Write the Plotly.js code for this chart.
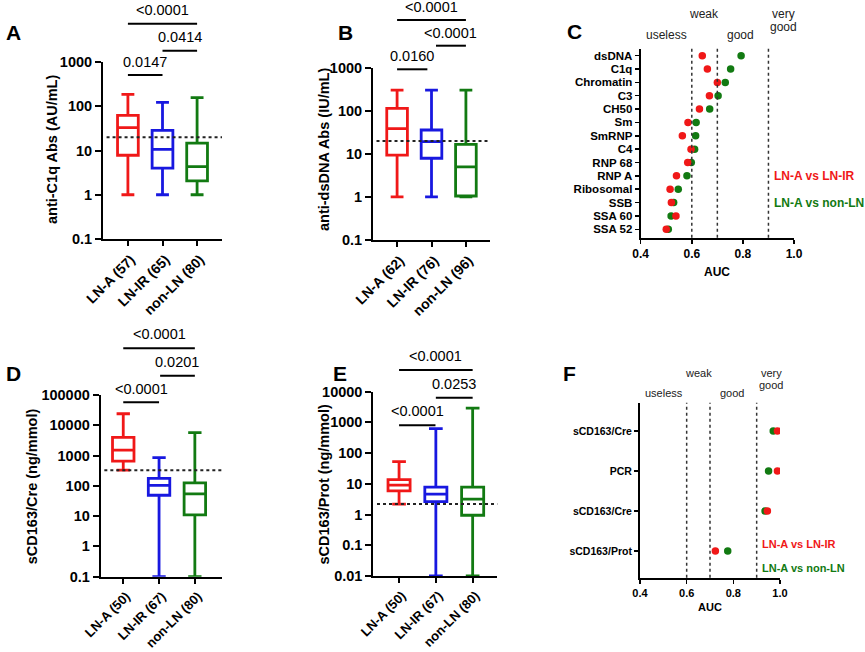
<!DOCTYPE html>
<html><head><meta charset="utf-8">
<script src="https://cdn.plot.ly/plotly-3.0.1.min.js"></script>
<style>html,body{margin:0;padding:0;background:#fff}#chart{width:865px;height:652px}</style>
</head><body><div id="chart"></div>
<script>
// ---------- DATA ----------
const groupsA = ['LN-A (57)', 'LN-IR (65)', 'non-LN (80)'];
const a_lower = [1, 1, 1];
const a_q1 = [7.8, 4.0, 2.05];
const a_median = [33, 10.6, 4.3];
const a_q3 = [62, 28.5, 14.7];
const a_upper = [185, 122, 156];
const a_cutoff = 20;
const a_pvals = ['0.0147', '0.0414', '<0.0001'];

const groupsB = ['LN-A (62)', 'LN-IR (76)', 'non-LN (96)'];
const b_lower = [1, 1, 1];
const b_q1 = [9.3, 7.9, 1.05];
const b_median = [38.5, 19.2, 5.0];
const b_q3 = [114, 35.8, 16.6];
const b_upper = [300, 300, 300];
const b_cutoff = 20;
const b_pvals = ['0.0160', '<0.0001', '<0.0001'];

const groupsD = ['LN-A (50)', 'LN-IR (67)', 'non-LN (80)'];
const d_lower = [330, 0.1, 0.1];
const d_q1 = [660, 49, 11];
const d_median = [1520, 104, 54];
const d_q3 = [4000, 177, 126];
const d_upper = [24000, 850, 5700];
const d_cutoff = 330;
const d_pvals = ['<0.0001', '0.0201', '<0.0001'];

const groupsE = ['LN-A (50)', 'LN-IR (67)', 'non-LN (80)'];
const e_lower = [2.2, 0.01, 0.01];
const e_q1 = [5.9, 2.65, 0.95];
const e_median = [9.1, 4.6, 3.2];
const e_q3 = [13.8, 7.8, 7.8];
const e_upper = [53, 630, 2940];
const e_cutoff = 2.2;
const e_pvals = ['<0.0001', '0.0253', '<0.0001'];

const markersC = ['dsDNA', 'C1q', 'Chromatin', 'C3', 'CH50', 'Sm', 'SmRNP', 'C4', 'RNP 68', 'RNP A', 'Ribosomal', 'SSB', 'SSA 60', 'SSA 52'];
const aucC_LNA_vs_LNIR = [0.641, 0.661, 0.700, 0.669, 0.630, 0.585, 0.563, 0.597, 0.584, 0.540, 0.515, 0.520, 0.538, 0.500];
const aucC_LNA_vs_nonLN = [0.793, 0.752, 0.731, 0.703, 0.670, 0.617, 0.615, 0.611, 0.598, 0.581, 0.547, 0.529, 0.519, 0.508];

const markersF = ['sCD163/Cre', 'PCR', 'sCD163/Cre', 'sCD163/Prot'];
const aucF_LNA_vs_LNIR = [0.989, 0.989, 0.946, 0.723];
const aucF_LNA_vs_nonLN = [0.971, 0.951, 0.936, 0.776];

const aucThresholds = [0.6, 0.7, 0.9];
const aucTicks = [0.4, 0.6, 0.8, 1.0];
const aucTickText = ['0.4', '0.6', '0.8', '1.0'];

const logTicks3 = [0.1, 1, 10, 100, 1000];
const logText3 = ['0.1', '1', '10', '100', '1000'];
const logTicksD = [0.1, 1, 10, 100, 1000, 10000, 100000];
const logTextD = ['0.1', '1', '10', '100', '1000', '10000', '100000'];
const logTicksE = [0.01, 0.1, 1, 10, 100, 1000, 10000];
const logTextE = ['0.01', '0.1', '1', '10', '100', '1000', '10000'];

// ---------- STYLE ----------
const FONT = 'Liberation Sans, Arial, Helvetica, sans-serif';
const COLORS = ['#f01818', '#1818e0', '#127a12'];
const RED = '#f01818', GREEN = '#127a12';
const W = 865, H = 652;
const PX = x => x / W;
const PY = y => 1 - y / H;

const traces = [];
function addBoxes(xa, ya, lower, q1, med, q3, upper) {
  for (let i = 0; i < 3; i++) {
    traces.push({
      type: 'box', x: [i], lowerfence: [lower[i]], q1: [q1[i]], median: [med[i]], q3: [q3[i]], upperfence: [upper[i]],
      xaxis: xa, yaxis: ya, width: 0.6, whiskerwidth: 0.62, boxpoints: false,
      line: { color: COLORS[i], width: 2.8 }, fillcolor: 'rgba(255,255,255,0)',
      hoverinfo: 'skip', showlegend: false
    });
  }
}
addBoxes('x', 'y', a_lower, a_q1, a_median, a_q3, a_upper);
addBoxes('x2', 'y2', b_lower, b_q1, b_median, b_q3, b_upper);
addBoxes('x4', 'y4', d_lower, d_q1, d_median, d_q3, d_upper);
addBoxes('x5', 'y5', e_lower, e_q1, e_median, e_q3, e_upper);

function addDots(xa, ya, names, red, green) {
  const idx = names.map((_, i) => i);
  traces.push({ type: 'scatter', mode: 'markers', x: green, y: idx, xaxis: xa, yaxis: ya,
    marker: { color: GREEN, size: 7.5 }, hoverinfo: 'skip', showlegend: false });
  traces.push({ type: 'scatter', mode: 'markers', x: red, y: idx, xaxis: xa, yaxis: ya,
    marker: { color: RED, size: 7.5 }, hoverinfo: 'skip', showlegend: false });
}
addDots('x3', 'y3', markersC, aucC_LNA_vs_LNIR, aucC_LNA_vs_nonLN);
addDots('x6', 'y6', markersF, aucF_LNA_vs_LNIR, aucF_LNA_vs_nonLN);

function catX(x0, x1, range, labels, anchor, fs) {
  return { domain: [PX(x0), PX(x1)], range: range, anchor: anchor, tickmode: 'array', tickvals: [0, 1, 2], ticktext: labels,
    tickangle: -45, ticklabelshift: 3, showline: true, linewidth: 2, linecolor: '#000', ticks: 'outside', ticklen: 5, tickwidth: 2, tickcolor: '#000',
    showgrid: false, zeroline: false, tickfont: { family: FONT, size: fs, weight: 'bold', color: '#000' }, fixedrange: true };
}
function logY(yTop, yBot, range, vals, text, anchor) {
  return { type: 'log', domain: [PY(yBot), PY(yTop)], range: range, anchor: anchor, tickmode: 'array', tickvals: vals, ticktext: text,
    showline: true, linewidth: 2, linecolor: '#000', ticks: 'outside', ticklen: 6, tickwidth: 2, tickcolor: '#000',
    showgrid: false, zeroline: false, tickfont: { family: FONT, size: 14.5, weight: 'bold', color: '#000' }, fixedrange: true };
}
function aucX(x0, x1, anchor, fs) {
  return { domain: [PX(x0), PX(x1)], range: [0.4, 1.0], anchor: anchor, tickmode: 'array', tickvals: aucTicks, ticktext: aucTickText,
    showline: true, linewidth: 2, linecolor: '#000', ticks: 'outside', ticklen: 4, tickwidth: 1.5, tickcolor: '#000',
    showgrid: false, zeroline: false, tickfont: { family: FONT, size: fs, weight: 'bold', color: '#000' }, fixedrange: true };
}
function catY(yTop, yBot, range, names, anchor, fs) {
  return { domain: [PY(yBot), PY(yTop)], range: range, anchor: anchor, tickmode: 'array', tickvals: names.map((_, i) => i), ticktext: names,
    showline: true, linewidth: 2, linecolor: '#000', ticks: 'outside', ticklen: 4, tickwidth: 1.5, tickcolor: '#000',
    showgrid: false, zeroline: false, tickfont: { family: FONT, size: fs, weight: 'bold', color: '#000' }, fixedrange: true };
}

const layout = {
  width: W, height: H, margin: { l: 0, r: 0, t: 0, b: 0 }, paper_bgcolor: '#fff', plot_bgcolor: 'rgba(0,0,0,0)',
  showlegend: false, boxmode: 'overlay',
  xaxis: catX(103, 222, [-0.72, 2.72], groupsA, 'y', 14),
  yaxis: logY(62, 239, [-1, 3], logTicks3, logText3, 'x'),
  xaxis2: catX(373, 490, [-0.7, 2.7], groupsB, 'y2', 14),
  yaxis2: logY(67.7, 240, [-1, 3], logTicks3, logText3, 'x2'),
  xaxis3: aucX(640.7, 794, 'y3', 12),
  yaxis3: catY(49, 237.7, [13.63, -0.5], markersC, 'x3', 11.5),
  xaxis4: catX(100.7, 221.7, [-0.63, 2.75], groupsD, 'y4', 13),
  yaxis4: logY(395, 576.7, [-1, 5], logTicksD, logTextD, 'x4'),
  xaxis5: catX(373.3, 497.3, [-0.7, 2.67], groupsE, 'y5', 13),
  yaxis5: logY(391.7, 576, [-2, 4], logTicksE, logTextE, 'x5'),
  xaxis6: aucX(640, 780, 'y6', 11),
  yaxis6: catY(403.3, 577.7, [3.67, -0.69], markersF, 'x6', 10.5),
  shapes: [], annotations: []
};

// cutoff dotted lines
[['x', 'y', a_cutoff], ['x2', 'y2', b_cutoff], ['x4', 'y4', d_cutoff], ['x5', 'y5', e_cutoff]].forEach(([xa, ya, c]) => {
  layout.shapes.push({ type: 'line', xref: xa + ' domain', yref: ya, x0: 0.03, x1: 1, y0: c, y1: c,
    line: { color: '#222', width: 2, dash: 'dot' } });
});
// AUC threshold lines
aucThresholds.forEach(t => {
  layout.shapes.push({ type: 'line', xref: 'x3', yref: 'paper', x0: t, x1: t, y0: PY(237.7), y1: PY(46), line: { color: '#333', width: 1.5, dash: 'dot' } });
  layout.shapes.push({ type: 'line', xref: 'x6', yref: 'paper', x0: t, x1: t, y0: PY(577.7), y1: PY(402.7), line: { color: '#333', width: 1.5, dash: 'dot' } });
});

// significance bars: [from, to, barY, textY]
function sig(xa, labels, spec) {
  spec.forEach((s, i) => {
    layout.shapes.push({ type: 'line', xref: xa, yref: 'paper', x0: s[0], x1: s[1], y0: PY(s[2]), y1: PY(s[2]), line: { color: '#000', width: 2 } });
    layout.annotations.push({ xref: xa, yref: 'paper', x: (s[0] + s[1]) / 2, y: PY(s[3]), text: labels[i], showarrow: false,
      xanchor: 'center', yanchor: 'middle', font: { family: FONT, size: 14.5, color: '#000' } });
  });
}
sig('x', a_pvals, [[0, 1, 75, 62], [1, 2, 50.7, 37], [0, 2, 23.7, 10]]);
sig('x2', b_pvals, [[0, 0.88, 69.3, 56], [1.13, 2, 45.7, 32.7], [0, 2, 20, 6.7]]);
sig('x4', d_pvals, [[0, 1, 402.3, 389.3], [1.03, 2, 375.7, 361.7], [0, 2, 348.3, 334]]);
sig('x5', e_pvals, [[0, 0.99, 425.3, 410.7], [1, 2, 397.7, 384], [0, 2, 370, 356]]);

function ann(x, y, text, size, opts) {
  layout.annotations.push(Object.assign({ xref: 'paper', yref: 'paper', x: PX(x), y: PY(y), text: text, showarrow: false,
    xanchor: 'center', yanchor: 'middle', font: { family: FONT, size: size, color: '#000' } }, opts || {}));
}
// panel letters
ann(14, 32, '<b>A</b>', 21); ann(345.5, 32.5, '<b>B</b>', 21); ann(574, 31.5, '<b>C</b>', 21);
ann(14, 373, '<b>D</b>', 21); ann(339.5, 373.5, '<b>E</b>', 21); ann(569.5, 373.5, '<b>F</b>', 21);
// y titles
ann(52, 150, '<b>anti-C1q Abs (AU/mL)</b>', 14.5, { textangle: -90 });
ann(324, 150, '<b>anti-dsDNA Abs (IU/mL)</b>', 14.5, { textangle: -90 });
ann(31.5, 486.7, '<b>sCD163/Cre (ng/mmol)</b>', 14.5, { textangle: -90 });
ann(323.5, 484, '<b>sCD163/Prot (ng/mmol)</b>', 14.5, { textangle: -90 });
// AUC titles
ann(716.7, 271.7, '<b>AUC</b>', 12); ann(710, 607.3, '<b>AUC</b>', 11);
// zone labels C
const zc = '#222';
ann(666.7, 35, 'useless', 12, { font: { family: FONT, size: 12, color: zc } });
ann(704, 14, 'weak', 12, { font: { family: FONT, size: 12, color: zc } });
ann(740.7, 35, 'good', 12, { font: { family: FONT, size: 12, color: zc } });
ann(783.3, 14, 'very', 12, { font: { family: FONT, size: 12, color: zc } });
ann(783.3, 26.7, 'good', 12, { font: { family: FONT, size: 12, color: zc } });
// zone labels F
ann(664, 393.3, 'useless', 11, { font: { family: FONT, size: 11, color: zc } });
ann(698.3, 373.3, 'weak', 11, { font: { family: FONT, size: 11, color: zc } });
ann(731.7, 393.3, 'good', 11, { font: { family: FONT, size: 11, color: zc } });
ann(771, 372.7, 'very', 11, { font: { family: FONT, size: 11, color: zc } });
ann(771, 385.3, 'good', 11, { font: { family: FONT, size: 11, color: zc } });
// legends
ann(771.7, 175.7, '<b>LN-A vs LN-IR</b>', 12, { xanchor: 'left', font: { family: FONT, size: 12, color: RED } });
ann(771.7, 202.7, '<b>LN-A vs non-LN</b>', 12, { xanchor: 'left', font: { family: FONT, size: 12, color: GREEN } });
ann(760, 544.3, '<b>LN-A vs LN-IR</b>', 11, { xanchor: 'left', font: { family: FONT, size: 11, color: RED } });
ann(760, 567.7, '<b>LN-A vs non-LN</b>', 11, { xanchor: 'left', font: { family: FONT, size: 11, color: GREEN } });

Plotly.newPlot('chart', traces, layout, { staticPlot: true, displayModeBar: false });
</script>
</body></html>
